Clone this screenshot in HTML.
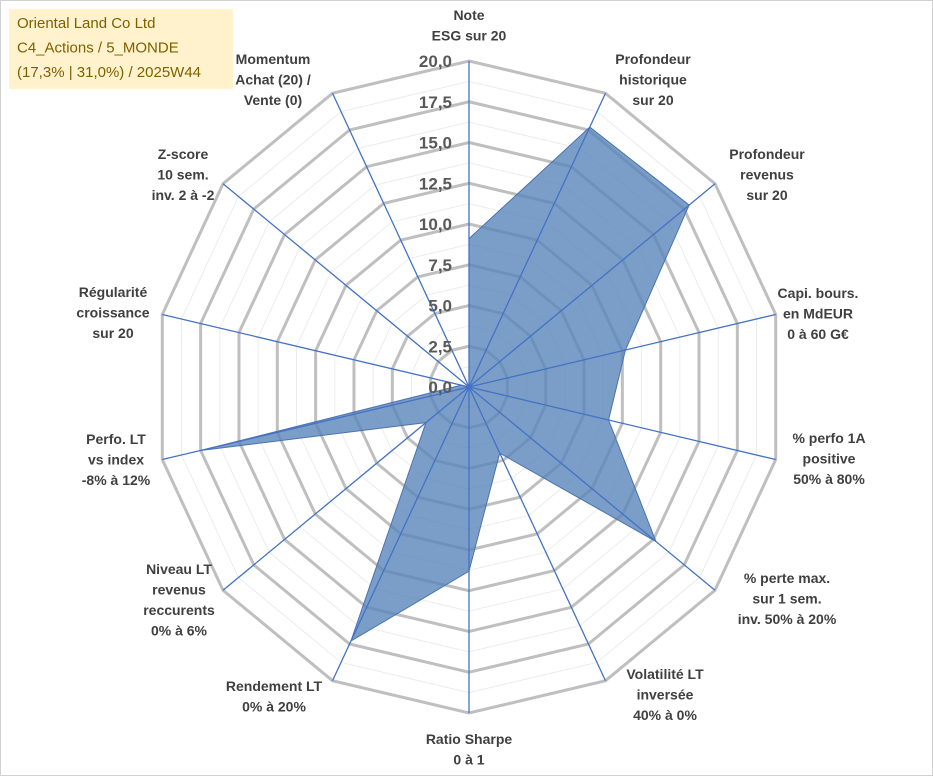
<!DOCTYPE html>
<html><head><meta charset="utf-8"><style>
html,body{margin:0;padding:0;background:#fff;}
#wrap{position:relative;width:933px;height:776px;overflow:hidden;border:1px solid #d0d0d0;box-sizing:border-box;}
svg text{font-family:"Liberation Sans",sans-serif;}
</style></head><body>
<div id="wrap">
<svg id="chart" width="933" height="776"></svg>
</div>
<script>
const categories=[["Note","ESG sur 20"],["Profondeur","historique","sur 20"],["Profondeur","revenus","sur 20"],["Capi. bours.","en MdEUR","0 à 60 G€"],["% perfo 1A","positive","50% à 80%"],["% perte max.","sur 1 sem.","inv. 50% à 20%"],["Volatilité LT","inversée","40% à 0%"],["Ratio Sharpe","0 à 1"],["Rendement LT","0% à 20%"],["Niveau LT","revenus","reccurents","0% à 6%"],["Perfo. LT","vs index","-8% à 12%"],["Régularité","croissance","sur 20"],["Z-score","10 sem.","inv. 2 à -2"],["Momentum","Achat (20) /","Vente (0)"]];
const values=[9.1,17.7,17.9,10.2,9.1,15.2,4.5,11.3,17.3,3.5,17.5,0.5,0,0];
const tickLabels=["0,0","2,5","5,0","7,5","10,0","12,5","15,0","17,5","20,0"];
const tickValues=[0,2.5,5,7.5,10,12.5,15,17.5,20];
const maxVal=20;
const labelPos=[[468,19],[652,63],[766,158],[817,297],[828,442],[786,582],[664,678],[468,743],[273,690],[178,573],[115,443],[112,296],[182,158],[272,63]];

const NS="http://www.w3.org/2000/svg";
const svg=document.getElementById('chart');
const cx=468,cy=386,R=326,SX=0.965,N=categories.length;
function ang(i){return i*2*Math.PI/N;}
function pt(i,v){const r=v/maxVal*R;return [cx+r*SX*Math.sin(ang(i)),cy-r*Math.cos(ang(i))];}
function mk(tag,attrs){const e=document.createElementNS(NS,tag);for(const k in attrs)e.setAttribute(k,attrs[k]);svg.appendChild(e);return e;}
for(let k=1;k<=16;k++){
  const v=k*1.25;const pts=[];for(let i=0;i<N;i++)pts.push(pt(i,v).join(','));
  const major=(k%2===0);
  const g=mk('polygon',{points:pts.join(' '),fill:'none',stroke:major?'#bfbfbf':'#ececec','stroke-width':major?3:1});
  
  
}
const sp=values.map((v,i)=>pt(i,v).join(',')).join(' ');
const poly=mk('polygon',{points:sp,fill:'#5a86bb','fill-opacity':0.8,stroke:'#4a72b0','stroke-width':1});


for(let i=0;i<N;i++){const p=pt(i,maxVal);
  const l=mk('line',{x1:cx,y1:cy,x2:p[0],y2:p[1],stroke:'#4472c4','stroke-width':1.3});
  
  
}
tickValues.forEach((v,j)=>{const y=cy-v/maxVal*R;
  const t=mk('text',{x:451,y:y+6,'text-anchor':'end','font-size':17,'font-weight':'bold',fill:'#595959'});
  t.textContent=tickLabels[j];
  
  
});
categories.forEach((lines,i)=>{
  const [x,y]=labelPos[i];
  const t=mk('text',{x:x,y:y,'text-anchor':'middle','font-size':14,'font-weight':'bold',fill:'#404040'});
  
  
  lines.forEach((s,k)=>{const ts=document.createElementNS(NS,'tspan');ts.setAttribute('x',x);ts.setAttribute('y',y+k*20.5);ts.textContent=s;t.appendChild(ts);});
});
const box=mk('rect',{x:8,y:8,width:224,height:80,fill:'#fff2cc'});


["Oriental Land Co Ltd","C4_Actions / 5_MONDE","(17,3% | 31,0%) / 2025W44"].forEach((s,k)=>{
  const t=mk('text',{x:16,y:27+k*24.5,'font-size':15,fill:'#7f6000'});
  t.textContent=s;
  
  
});
</script>
</body></html>
